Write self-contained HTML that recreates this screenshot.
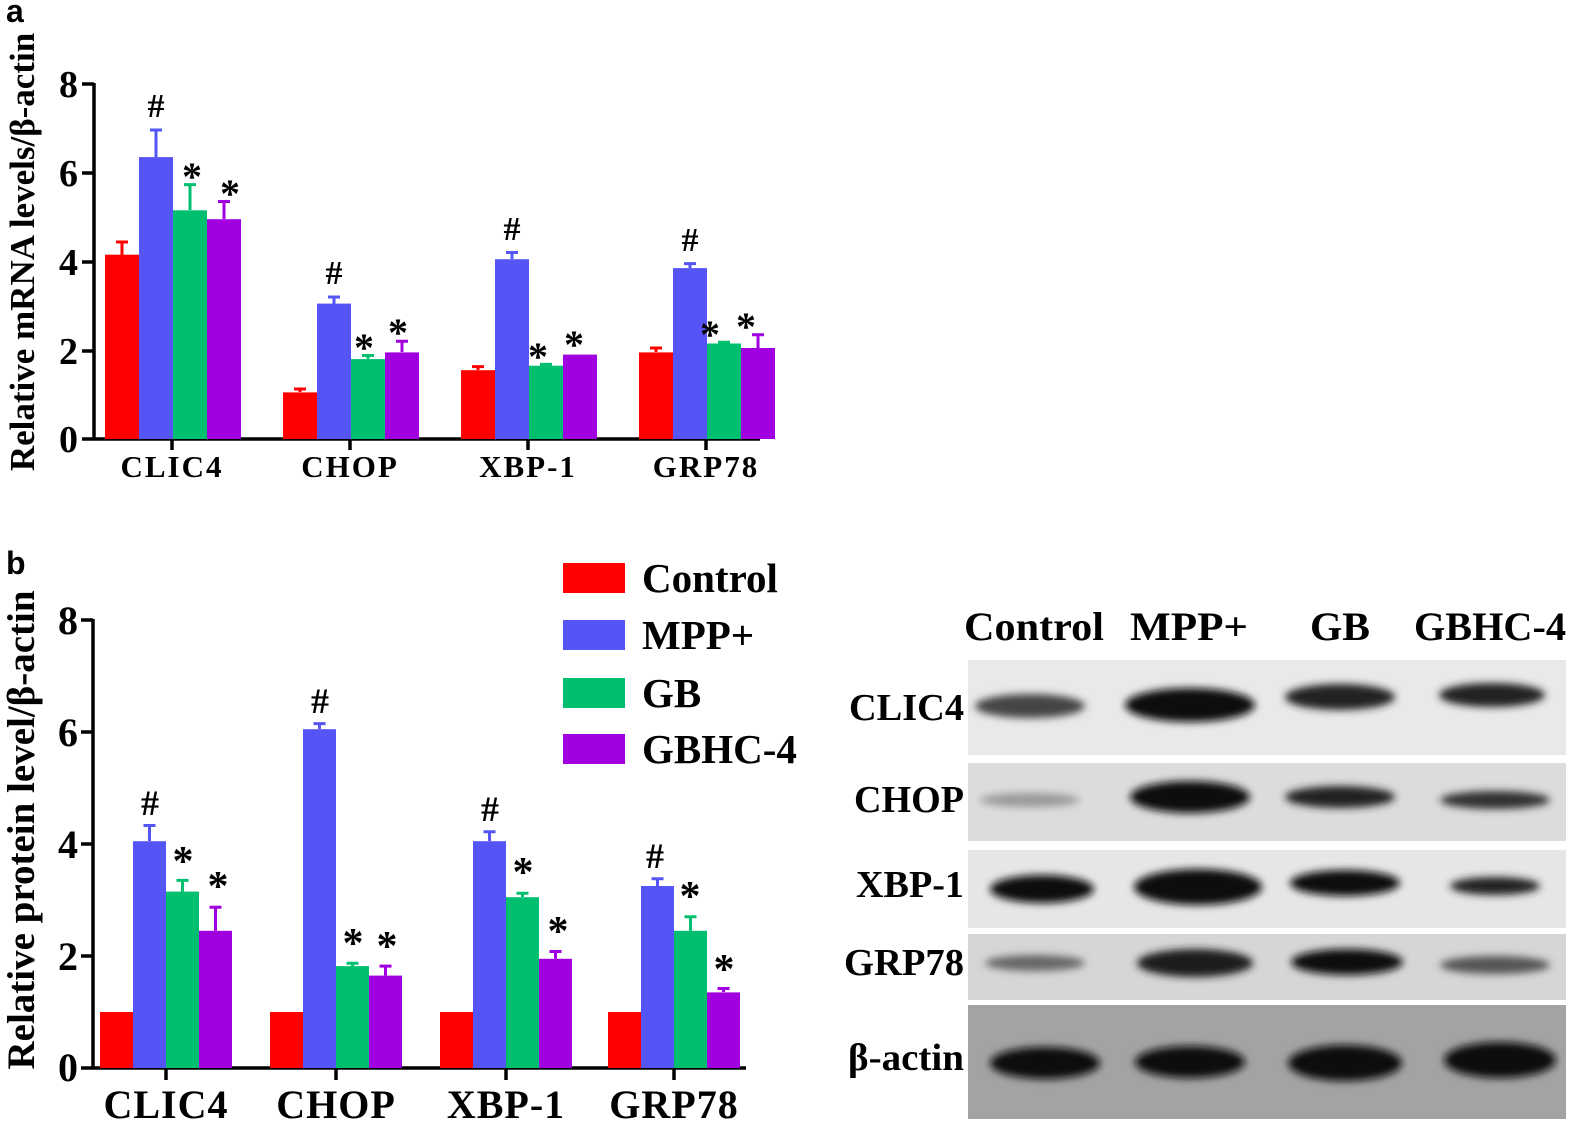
<!DOCTYPE html><html><head><meta charset="utf-8"><style>body{margin:0;background:#fff}svg{display:block}text{font-family:"Liberation Serif",serif;font-weight:bold}</style></head><body>
<svg width="1594" height="1139" viewBox="0 0 1594 1139" xmlns="http://www.w3.org/2000/svg">
<defs><filter id="bl" x="-20%" y="-50%" width="140%" height="200%"><feGaussianBlur stdDeviation="4"/></filter></defs>
<text x="6" y="22" font-size="32" style="font-family:'Liberation Sans',sans-serif">a</text>
<text x="6" y="574" font-size="32" style="font-family:'Liberation Sans',sans-serif">b</text>
<!-- Panel a -->
<text transform="translate(34,252) rotate(-90)" font-size="35" text-anchor="middle">Relative mRNA levels/β-actin</text>
<g font-size="38" text-anchor="end"><text x="78" y="97">8</text><text x="78" y="186">6</text><text x="78" y="275">4</text><text x="78" y="364">2</text><text x="78" y="452">0</text></g>
<g stroke="#000" stroke-width="3.5" fill="none"><path d="M94 83V439H760M82 84H94M82 173H94M82 262H94M82 351H94M82 439H94M172 439V450M350 439V450M528 439V450M706 439V450"/></g>
<g font-size="31" text-anchor="middle" letter-spacing="2"><text x="172" y="477">CLIC4</text><text x="350" y="477">CHOP</text><text x="528" y="477">XBP-1</text><text x="706" y="477">GRP78</text></g>
<g>
<rect x="105" y="254.7" width="34" height="184.3" fill="#ff0000"/><rect x="139" y="157.1" width="34" height="281.9" fill="#5555f5"/><rect x="173" y="210.3" width="34" height="228.7" fill="#00c070"/><rect x="207" y="219.2" width="34" height="219.8" fill="#a000e0"/>
<rect x="283" y="392.4" width="34" height="46.6" fill="#ff0000"/><rect x="317" y="303.6" width="34" height="135.4" fill="#5555f5"/><rect x="351" y="359.1" width="34" height="79.9" fill="#00c070"/><rect x="385" y="352.4" width="34" height="86.6" fill="#a000e0"/>
<rect x="461" y="370.2" width="34" height="68.8" fill="#ff0000"/><rect x="495" y="259.2" width="34" height="179.8" fill="#5555f5"/><rect x="529" y="365.7" width="34" height="73.3" fill="#00c070"/><rect x="563" y="354.6" width="34" height="84.4" fill="#a000e0"/>
<rect x="639" y="352.4" width="34" height="86.6" fill="#ff0000"/><rect x="673" y="268.1" width="34" height="170.9" fill="#5555f5"/><rect x="707" y="343.5" width="34" height="95.5" fill="#00c070"/><rect x="741" y="348" width="34" height="91" fill="#a000e0"/>
</g>
<g stroke-width="3" fill="none">
<path stroke="#ff0000" d="M122 255V242M116 242H128M300 392V389M294 389H306M478 370V366.6M472 366.6H484M656 352V348M650 348H662"/>
<path stroke="#5555f5" d="M156 157V130M150 130H162M334 304V297M328 297H340M512 259V252.5M506 252.5H518M690 268V263.6M684 263.6H696"/>
<path stroke="#00c070" d="M190 210V184.6M184 184.6H196M368 359V355.5M362 355.5H374M546 365.7V364.4M540 364.4H552M724 343.5V342.2M718 342.2H730"/>
<path stroke="#a000e0" d="M224 219V201.5M218 201.5H230M402 352V341.3M396 341.3H408M758 348V334.7M752 334.7H764"/>
</g>
<g font-size="34" text-anchor="middle" style="font-family:'Liberation Sans',sans-serif;font-weight:normal">
<text x="156" y="117">#</text><text x="334" y="284">#</text><text x="512" y="240">#</text><text x="690" y="251">#</text>
<text x="192" y="190" font-size="40">*</text><text x="230" y="207" font-size="40">*</text>
<text x="364" y="361" font-size="40">*</text><text x="398" y="346" font-size="40">*</text>
<text x="538" y="370" font-size="40">*</text><text x="574" y="358" font-size="40">*</text>
<text x="710" y="348" font-size="40">*</text><text x="746" y="340" font-size="40">*</text>
</g>
<!-- Panel b -->
<text transform="translate(34,830) rotate(-90)" font-size="39" text-anchor="middle">Relative protein level/β-actin</text>
<g font-size="40" text-anchor="end"><text x="78" y="634">8</text><text x="78" y="746">6</text><text x="78" y="858">4</text><text x="78" y="970">2</text><text x="78" y="1081">0</text></g>
<g stroke="#000" stroke-width="3.5" fill="none"><path d="M93 619V1068H746M81 620H93M81 732H93M81 844H93M81 956H93M81 1068H93M166 1068V1080M336 1068V1080M506 1068V1080M674 1068V1080"/></g>
<g font-size="40" text-anchor="middle" letter-spacing="1"><text x="166" y="1118">CLIC4</text><text x="336" y="1118">CHOP</text><text x="506" y="1118">XBP-1</text><text x="674" y="1118">GRP78</text></g>
<g>
<rect x="100" y="1012" width="33" height="56" fill="#ff0000"/><rect x="133" y="841.2" width="33" height="226.8" fill="#5555f5"/><rect x="166" y="891.6" width="33" height="176.4" fill="#00c070"/><rect x="199" y="930.8" width="33" height="137.2" fill="#a000e0"/>
<rect x="270" y="1012" width="33" height="56" fill="#ff0000"/><rect x="303" y="729.2" width="33" height="338.8" fill="#5555f5"/><rect x="336" y="966.1" width="33" height="101.9" fill="#00c070"/><rect x="369" y="975.6" width="33" height="92.4" fill="#a000e0"/>
<rect x="440" y="1012" width="33" height="56" fill="#ff0000"/><rect x="473" y="841.2" width="33" height="226.8" fill="#5555f5"/><rect x="506" y="897.2" width="33" height="170.8" fill="#00c070"/><rect x="539" y="958.8" width="33" height="109.2" fill="#a000e0"/>
<rect x="608" y="1012" width="33" height="56" fill="#ff0000"/><rect x="641" y="886" width="33" height="182" fill="#5555f5"/><rect x="674" y="930.8" width="33" height="137.2" fill="#00c070"/><rect x="707" y="992.4" width="33" height="75.6" fill="#a000e0"/>
</g>
<g stroke-width="3" fill="none">
<path stroke="#5555f5" d="M149.5 841V825.5M143.5 825.5H155.5M319.5 729V723.6M313.5 723.6H325.5M489.5 841V831.7M483.5 831.7H495.5M657.5 886V878.7M651.5 878.7H663.5"/>
<path stroke="#00c070" d="M182.5 891.6V880.4M176.5 880.4H188.5M352.5 966V963.3M346.5 963.3H358.5M522.5 897V893.3M516.5 893.3H528.5M690.5 930.8V916.8M684.5 916.8H696.5"/>
<path stroke="#a000e0" d="M215.5 930.8V907.3M209.5 907.3H221.5M385.5 975.6V966.1M379.5 966.1H391.5M555.5 958.8V951.5M549.5 951.5H561.5M723.5 992V988.5M717.5 988.5H729.5"/>
</g>
<g font-size="36" text-anchor="middle" style="font-family:'Liberation Sans',sans-serif;font-weight:normal">
<text x="150" y="815">#</text><text x="320" y="713">#</text><text x="490" y="821">#</text><text x="655" y="868">#</text>
<text x="183" y="875" font-size="42">*</text><text x="218" y="900" font-size="42">*</text>
<text x="353" y="957" font-size="42">*</text><text x="387" y="960" font-size="42">*</text>
<text x="523" y="886" font-size="42">*</text><text x="558" y="945" font-size="42">*</text>
<text x="690" y="910" font-size="42">*</text><text x="724" y="983" font-size="42">*</text>
</g>
<!-- Legend -->
<rect x="563" y="563" width="62" height="30" fill="#ff0000"/><rect x="563" y="620" width="62" height="30" fill="#5555f5"/><rect x="563" y="678" width="62" height="30" fill="#00c070"/><rect x="563" y="734" width="62" height="30" fill="#a000e0"/>
<g font-size="41"><text x="642" y="592">Control</text><text x="642" y="649">MPP+</text><text x="642" y="707">GB</text><text x="642" y="763">GBHC-4</text></g>
<!-- Blot -->
<g font-size="40" text-anchor="middle">
<text x="1034" y="640" textLength="140" lengthAdjust="spacingAndGlyphs">Control</text>
<text x="1189" y="640" textLength="118" lengthAdjust="spacingAndGlyphs">MPP+</text>
<text x="1340" y="640" textLength="60" lengthAdjust="spacingAndGlyphs">GB</text>
<text x="1490" y="640" textLength="152" lengthAdjust="spacingAndGlyphs">GBHC-4</text>
</g>
<g font-size="38" text-anchor="end">
<text x="964" y="720" textLength="115" lengthAdjust="spacingAndGlyphs">CLIC4</text>
<text x="964" y="812" textLength="110" lengthAdjust="spacingAndGlyphs">CHOP</text>
<text x="964" y="897" textLength="108" lengthAdjust="spacingAndGlyphs">XBP-1</text>
<text x="964" y="975" textLength="120" lengthAdjust="spacingAndGlyphs">GRP78</text>
<text x="964" y="1070" textLength="116" lengthAdjust="spacingAndGlyphs">β-actin</text>
</g>
<rect x="968" y="660" width="598" height="95" fill="#e9e9e9"/>
<rect x="968" y="763" width="598" height="78" fill="#dcdcdc"/>
<rect x="968" y="850" width="598" height="78" fill="#e6e6e6"/>
<rect x="968" y="934" width="598" height="66" fill="#d6d6d6"/>
<rect x="968" y="1005" width="598" height="114" fill="#a3a3a3"/>
<g filter="url(#bl)" fill="#111">
<ellipse cx="1030" cy="706" rx="55" ry="12" fill="#444"/><ellipse cx="1190" cy="705" rx="65" ry="17"/><ellipse cx="1340" cy="697" rx="55" ry="13" fill="#222"/><ellipse cx="1492" cy="695" rx="53" ry="12" fill="#222"/>
<ellipse cx="1030" cy="800" rx="50" ry="7" fill="#999"/><ellipse cx="1190" cy="797" rx="60" ry="16"/><ellipse cx="1340" cy="797" rx="55" ry="11" fill="#222"/><ellipse cx="1495" cy="800" rx="55" ry="9" fill="#333"/>
<ellipse cx="1042" cy="889" rx="52" ry="14"/><ellipse cx="1198" cy="887" rx="64" ry="18"/><ellipse cx="1345" cy="883" rx="55" ry="13"/><ellipse cx="1495" cy="886" rx="45" ry="9" fill="#222"/>
<ellipse cx="1035" cy="963" rx="50" ry="8" fill="#666"/><ellipse cx="1195" cy="963" rx="58" ry="14" fill="#1a1a1a"/><ellipse cx="1347" cy="962" rx="56" ry="13" fill="#111"/><ellipse cx="1495" cy="965" rx="55" ry="9" fill="#555"/>
<ellipse cx="1045" cy="1063" rx="55" ry="16"/><ellipse cx="1190" cy="1062" rx="55" ry="16"/><ellipse cx="1345" cy="1063" rx="57" ry="18"/><ellipse cx="1500" cy="1060" rx="56" ry="18"/>
</g>
</svg>
</body></html>
